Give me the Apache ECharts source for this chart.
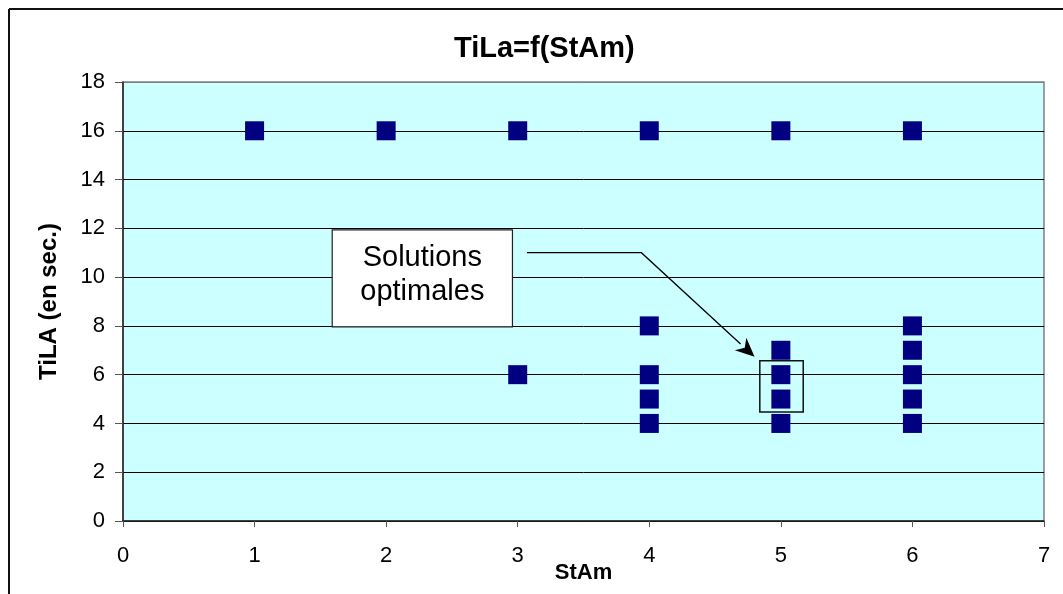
<!DOCTYPE html>
<html>
<head>
<meta charset="utf-8">
<script src="https://cdn.jsdelivr.net/npm/echarts@6/dist/echarts.min.js"></script>
<style>
  html, body { margin: 0; padding: 0; background: #fff; }
  #chart { width: 1063px; height: 594px; }
</style>
</head>
<body>
<div id="chart"></div>
<script>
// StAm (x) and TiLa in seconds (y)
var stAm = [1, 2, 3, 4, 5, 6, 3, 4, 4, 4, 4, 5, 5, 5, 5, 6, 6, 6, 6, 6];
var tiLa = [16, 16, 16, 16, 16, 16, 6, 8, 6, 5, 4, 7, 6, 5, 4, 8, 7, 6, 5, 4];
var yTicks = [0, 2, 4, 6, 8, 10, 12, 14, 16, 18];
var xTicks = [0, 1, 2, 3, 4, 5, 6, 7];

var points = [];
for (let i = 0; i < stAm.length; i++) {
  points.push([stAm[i], tiLa[i]]);
}

var chart = echarts.init(document.getElementById('chart'));
var font = 'Liberation Sans, Arial, sans-serif';

// the top gridline is the grey plot border in the original
var gridColors = yTicks.map(function (v, i) {
  return i === yTicks.length - 1 ? '#808080' : '#000';
});

var option = {
  animation: false,
  backgroundColor: '#fff',
  title: {
    text: 'TiLa=f(StAm)',
    left: 449,
    top: 29,
    textStyle: { fontFamily: font, fontSize: 29, fontWeight: 'bold', color: '#000' }
  },
  grid: {
    left: 123, right: 19, top: 82, bottom: 73,
    outerBoundsMode: 'none',
    containLabel: false,
    show: true,
    backgroundColor: '#CCFFFF',
    borderColor: '#808080',
    borderWidth: 1.5
  },
  xAxis: {
    type: 'value',
    min: xTicks[0], max: xTicks[xTicks.length - 1], interval: 1,
    name: 'StAm',
    nameLocation: 'middle',
    nameGap: 41,
    nameMoveOverlap: false,
    nameTextStyle: { fontFamily: font, fontSize: 22, fontWeight: 'bold', color: '#000' },
    axisLine: { lineStyle: { color: '#222', width: 1.5 } },
    axisTick: { show: true, length: 6, lineStyle: { color: '#555' } },
    axisLabel: { fontFamily: font, fontSize: 22, color: '#000', margin: 24 },
    splitLine: { show: false }
  },
  yAxis: {
    type: 'value',
    min: yTicks[0], max: yTicks[yTicks.length - 1], interval: 2,
    name: 'TiLA (en sec.)',
    nameLocation: 'middle',
    nameGap: 62,
    nameMoveOverlap: false,
    nameTextStyle: { fontFamily: font, fontSize: 24, fontWeight: 'bold', color: '#000' },
    axisLine: { show: true, lineStyle: { color: '#222', width: 1.5 } },
    axisTick: { show: true, length: 8, lineStyle: { color: '#555' } },
    axisLabel: { fontFamily: font, fontSize: 22, color: '#000', margin: 18 },
    splitLine: { show: true, lineStyle: { color: gridColors, width: 1 } }
  },
  series: [{
    type: 'scatter',
    data: points,
    symbol: 'rect',
    symbolSize: 19,
    itemStyle: { color: '#000080', opacity: 1 },
    z: 5
  }]
};
chart.setOption(option);

// annotation ("Solutions optimales"), positioned in data coordinates
function px(x, y) { return chart.convertToPixel({ gridIndex: 0 }, [x, y]); }
var boxA = px(1.59, 11.94), boxB = px(2.96, 7.96);
var lineStart = px(3.07, 11.0), lineBend = px(3.94, 11.0), tip = px(4.80, 6.73);
var selA = px(4.84, 6.57), selB = px(5.17, 4.47);

var dx = tip[0] - lineBend[0], dy = tip[1] - lineBend[1];
var len = Math.sqrt(dx * dx + dy * dy);
var ux = dx / len, uy = dy / len;
var headLen = 19, headW = 8.5;
var baseX = tip[0] - ux * headLen, baseY = tip[1] - uy * headLen;

chart.setOption({
  graphic: [
    { type: 'line', shape: { x1: 9, y1: 9, x2: 1063, y2: 9 }, style: { stroke: '#111', lineWidth: 2 } },
    { type: 'line', shape: { x1: 9, y1: 9, x2: 9, y2: 594 }, style: { stroke: '#111', lineWidth: 2 } },
    {
      type: 'rect', z: 10,
      shape: { x: boxA[0], y: boxA[1], width: boxB[0] - boxA[0], height: boxB[1] - boxA[1] },
      style: { fill: '#fff', stroke: '#222', lineWidth: 1.2 }
    },
    {
      type: 'text', z: 11,
      x: (boxA[0] + boxB[0]) / 2, y: (boxA[1] + boxB[1]) / 2 - 3,
      style: {
        text: 'Solutions\noptimales', fill: '#000',
        font: '29px ' + font, align: 'center', verticalAlign: 'middle', lineHeight: 34
      }
    },
    {
      type: 'polyline', z: 10,
      shape: { points: [lineStart, lineBend, [baseX, baseY]] },
      style: { stroke: '#000', lineWidth: 1.3, fill: null }
    },
    {
      type: 'polygon', z: 10,
      shape: { points: [tip, [baseX - uy * headW, baseY + ux * headW], [tip[0] - ux * headLen * 0.7, tip[1] - uy * headLen * 0.7], [baseX + uy * headW, baseY - ux * headW]] },
      style: { fill: '#000' }
    },
    {
      type: 'rect', z: 10,
      shape: { x: selA[0], y: selA[1], width: selB[0] - selA[0], height: selB[1] - selA[1] },
      style: { fill: null, stroke: '#111', lineWidth: 1.5 }
    }
  ]
});
</script>
</body>
</html>
